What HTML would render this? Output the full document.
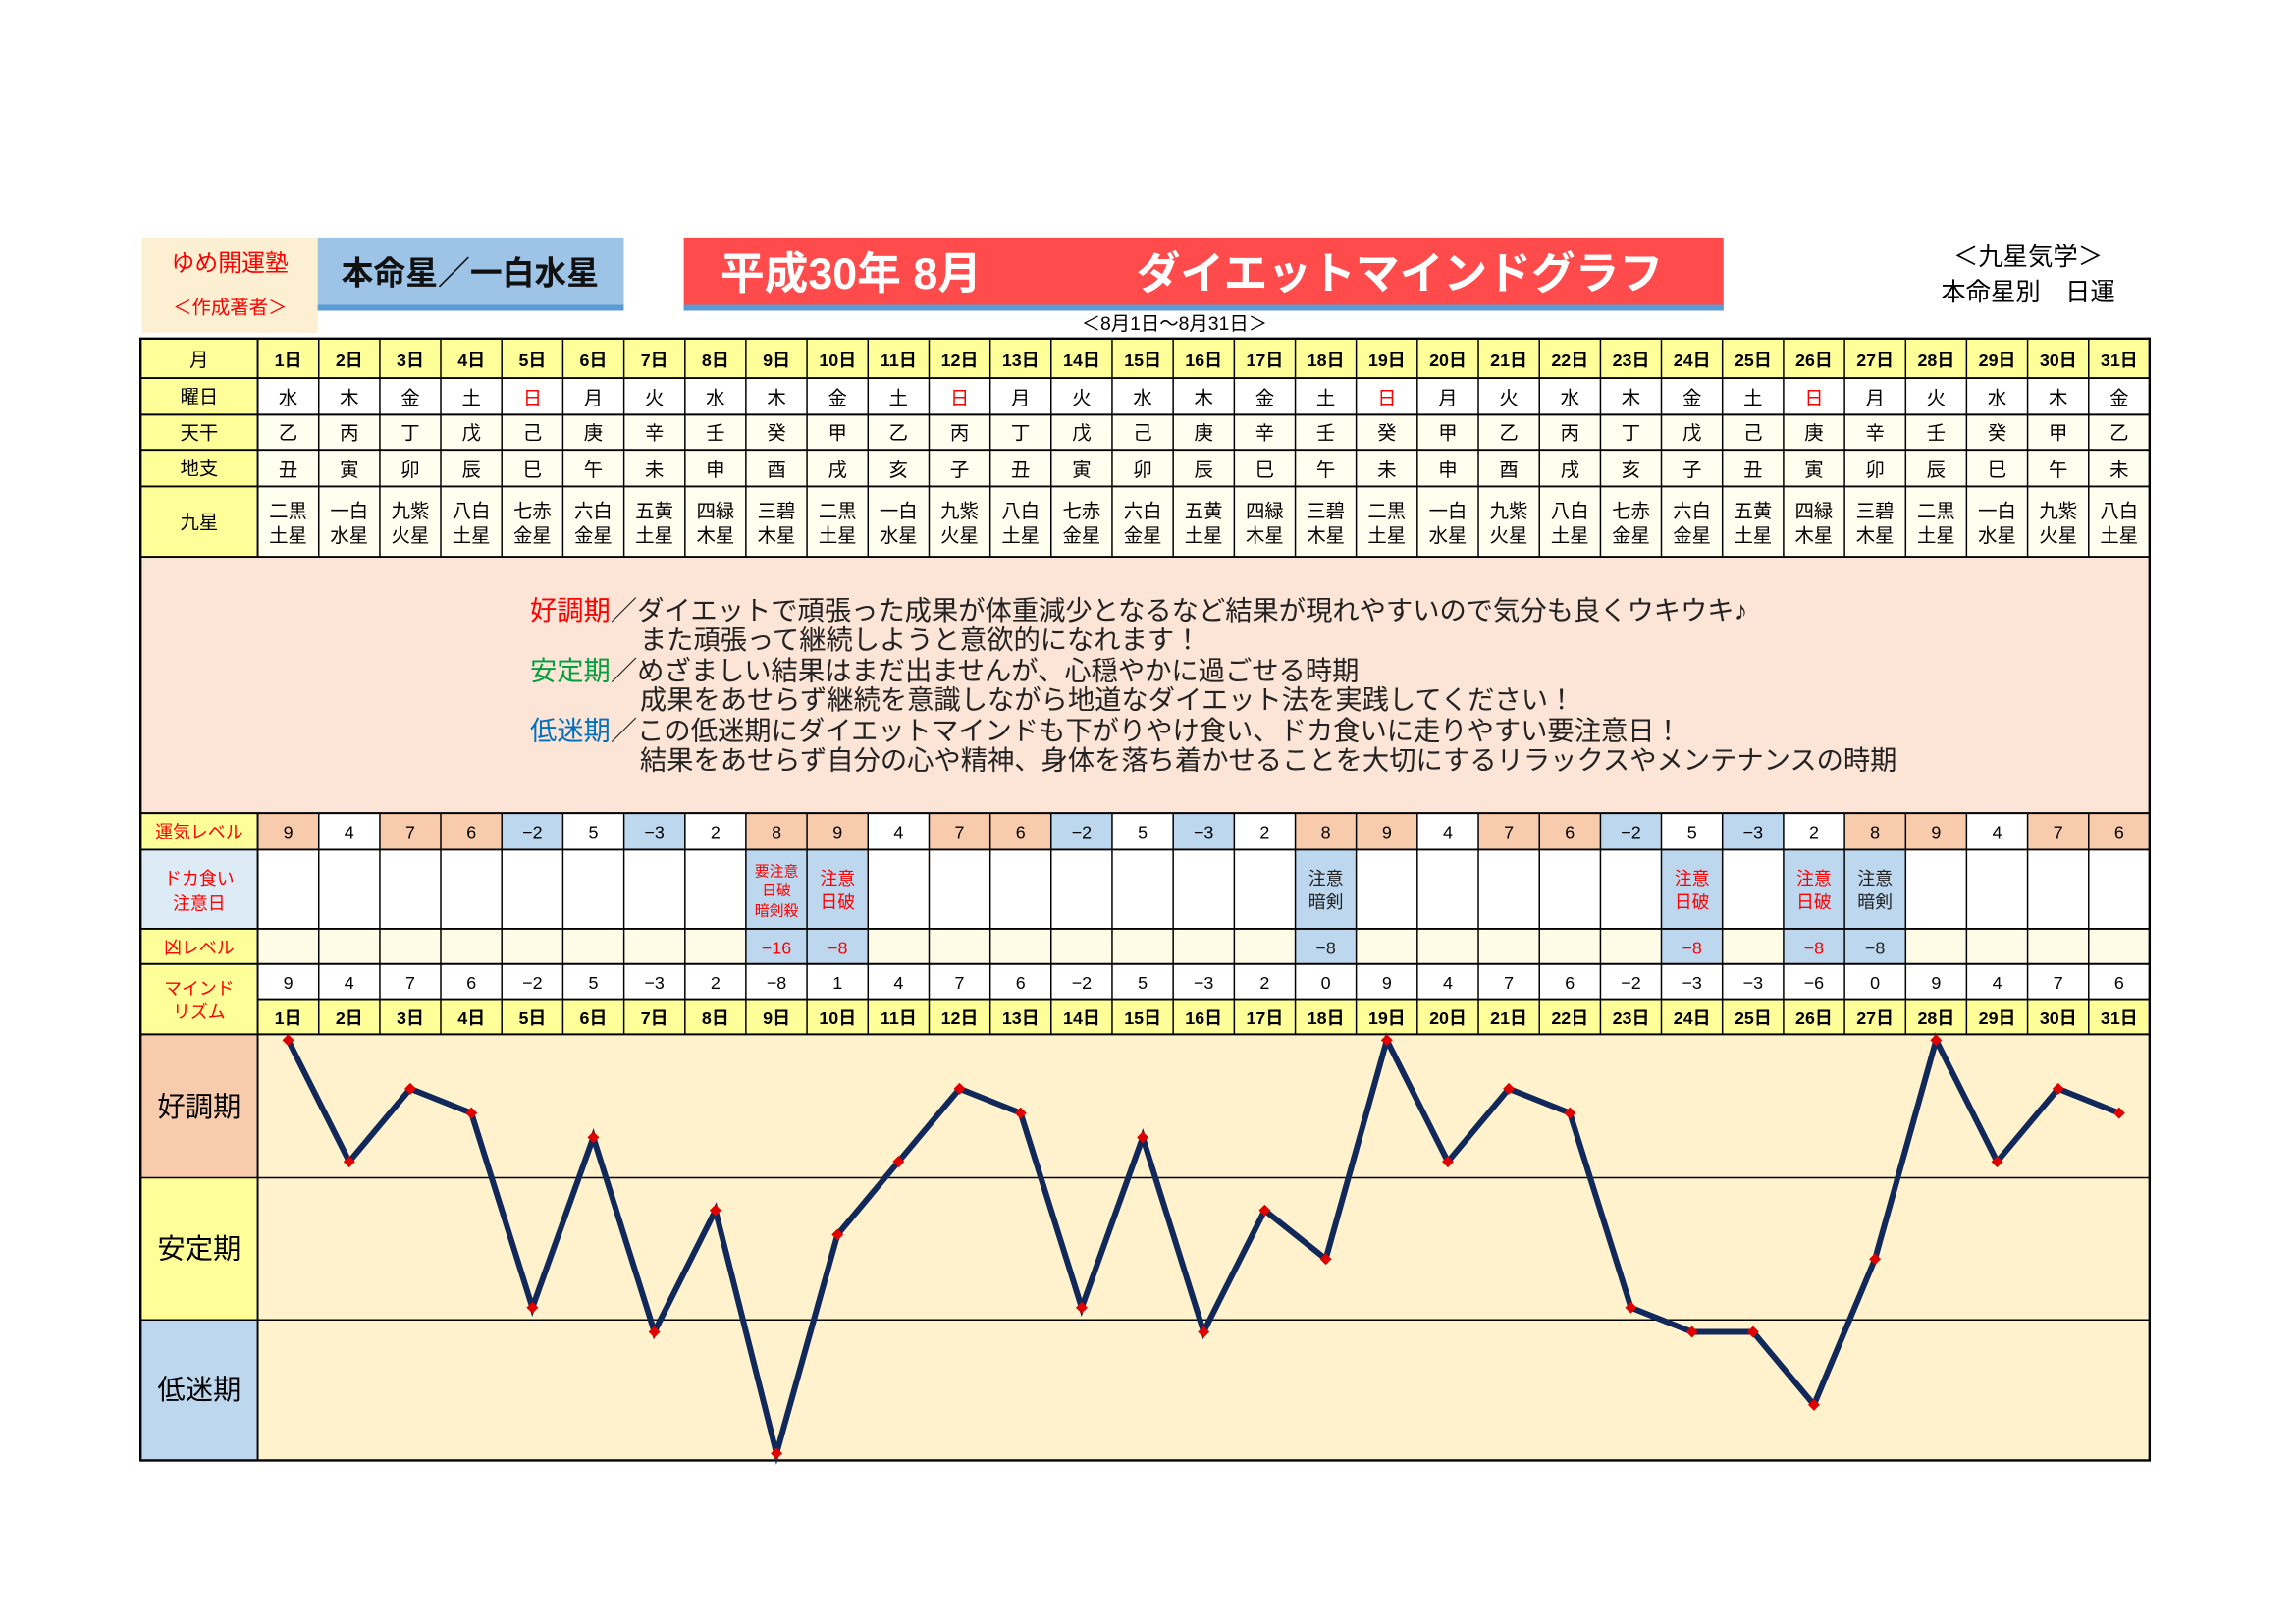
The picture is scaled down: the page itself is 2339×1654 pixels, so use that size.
<!DOCTYPE html>
<html><head><meta charset="utf-8"><style>
html,body{margin:0;padding:0;background:#fff}
svg{display:block}
text{font-family:"Liberation Sans","Noto Sans CJK JP",sans-serif}
</style></head><body>
<svg width="2339" height="1654" viewBox="0 0 1568 1108.5" xmlns="http://www.w3.org/2000/svg">
<rect width="1568" height="1109" fill="#fff"/>
<!-- header -->
<rect x="97" y="162" width="120" height="65" fill="#fdf0d2"/>
<text x="157" y="185" font-size="16" fill="#f00" text-anchor="middle">ゆめ開運塾</text>
<text x="157" y="214" font-size="13" fill="#f00" text-anchor="middle">＜作成著者＞</text>
<rect x="217" y="162" width="209" height="50" fill="#9dc3e6"/>
<rect x="217" y="208" width="209" height="4" fill="#5b9bd5"/>
<text x="321" y="194" font-size="22" font-weight="bold" fill="#111" text-anchor="middle">本命星／一白水星</text>
<rect x="467" y="162" width="710" height="50" fill="#ff4b4b"/>
<rect x="467" y="208" width="710" height="4" fill="#5b9bd5"/>
<text x="492" y="197" font-size="30" font-weight="bold" fill="#fff">平成30年 8月</text>
<text x="776" y="197" font-size="30" font-weight="bold" fill="#fff">ダイエットマインドグラフ</text>
<text x="802" y="225" font-size="13" fill="#000" text-anchor="middle">＜8月1日～8月31日＞</text>
<text x="1385" y="181" font-size="17" fill="#000" text-anchor="middle">＜九星気学＞</text>
<text x="1385" y="205" font-size="17" fill="#000" text-anchor="middle">本命星別　日運</text>

<!-- row backgrounds -->
<rect x="96" y="231" width="1372" height="27" fill="#ffff99"/>
<rect x="96" y="258" width="80" height="122" fill="#ffff99"/>
<rect x="176" y="258" width="1292" height="25" fill="#fff"/>
<rect x="176" y="283" width="1292" height="49" fill="#fffff0"/>
<rect x="176" y="332" width="1292" height="48" fill="#fffff0"/>
<rect x="96" y="380" width="1372" height="175" fill="#fce4d6"/>
<rect x="96" y="555" width="80" height="25" fill="#ffff99"/>
<rect x="176" y="555" width="1292" height="25" fill="#fff"/>
<rect x="96" y="580" width="80" height="54" fill="#ddebf7"/>
<rect x="176" y="580" width="1292" height="54" fill="#fff"/>
<rect x="96" y="634" width="80" height="24" fill="#ffff99"/>
<rect x="176" y="634" width="1292" height="24" fill="#fefce6"/>
<rect x="96" y="658" width="80" height="48" fill="#ffff99"/>
<rect x="176" y="658" width="1292" height="24" fill="#fff"/>
<rect x="176" y="682" width="1292" height="24" fill="#ffff99"/>
<rect x="176" y="706" width="1292" height="291" fill="#fff2cc"/>
<rect x="96" y="706" width="80" height="98" fill="#f8cbad"/>
<rect x="96" y="804" width="80" height="97" fill="#ffff99"/>
<rect x="96" y="901" width="80" height="96" fill="#bdd7ee"/>

<!-- 運気 colored cells -->
<g fill="#f8cbad">
<rect x="176" y="555" width="41.7" height="25"/><rect x="259.4" y="555" width="41.7" height="25"/><rect x="301" y="555" width="41.7" height="25"/>
<rect x="509.4" y="555" width="41.7" height="25"/><rect x="551.1" y="555" width="41.7" height="25"/><rect x="634.5" y="555" width="41.7" height="25"/><rect x="676.2" y="555" width="41.7" height="25"/>
<rect x="884.6" y="555" width="41.7" height="25"/><rect x="926.2" y="555" width="41.7" height="25"/><rect x="1009.6" y="555" width="41.7" height="25"/><rect x="1051.3" y="555" width="41.7" height="25"/>
<rect x="1259.7" y="555" width="41.7" height="25"/><rect x="1301.4" y="555" width="41.7" height="25"/><rect x="1384.7" y="555" width="41.7" height="25"/><rect x="1426.4" y="555" width="41.7" height="25"/>
</g>
<g fill="#bdd7ee">
<rect x="342.7" y="555" width="41.7" height="25"/><rect x="426.1" y="555" width="41.7" height="25"/><rect x="717.8" y="555" width="41.7" height="25"/><rect x="801.2" y="555" width="41.7" height="25"/><rect x="1093" y="555" width="41.7" height="25"/><rect x="1176.3" y="555" width="41.7" height="25"/>
<rect x="509.4" y="580" width="83.4" height="78"/>
<rect x="884.6" y="580" width="41.7" height="78"/>
<rect x="1134.6" y="580" width="41.7" height="78"/>
<rect x="1218" y="580" width="83.4" height="78"/>
</g>

<!-- grid lines -->
<g stroke="#000" stroke-width="1.3">
<line x1="96" y1="258" x2="1468" y2="258"/><line x1="96" y1="283" x2="1468" y2="283"/><line x1="96" y1="307" x2="1468" y2="307"/><line x1="96" y1="332" x2="1468" y2="332"/><line x1="96" y1="380" x2="1468" y2="380"/>
<line x1="96" y1="555" x2="1468" y2="555"/><line x1="96" y1="580" x2="1468" y2="580"/><line x1="96" y1="634" x2="1468" y2="634"/><line x1="96" y1="658" x2="1468" y2="658"/><line x1="176" y1="682" x2="1468" y2="682"/><line x1="96" y1="706" x2="1468" y2="706"/>
<line x1="96" y1="804" x2="1468" y2="804" stroke-width="1"/><line x1="96" y1="901" x2="1468" y2="901" stroke-width="1"/>
<line x1="176" y1="231" x2="176" y2="380"/><line x1="176" y1="555" x2="176" y2="997"/>
</g>
<g stroke="#000" stroke-width="1">
<path d="M217.7 231V380M259.4 231V380M301 231V380M342.7 231V380M384.4 231V380M426.1 231V380M467.8 231V380M509.4 231V380M551.1 231V380M592.8 231V380M634.5 231V380M676.2 231V380M717.8 231V380M759.5 231V380M801.2 231V380M842.9 231V380M884.6 231V380M926.2 231V380M967.9 231V380M1009.6 231V380M1051.3 231V380M1093 231V380M1134.6 231V380M1176.3 231V380M1218 231V380M1259.7 231V380M1301.4 231V380M1343 231V380M1384.7 231V380M1426.4 231V380"/>
<path d="M217.7 555V706M259.4 555V706M301 555V706M342.7 555V706M384.4 555V706M426.1 555V706M467.8 555V706M509.4 555V706M551.1 555V706M592.8 555V706M634.5 555V706M676.2 555V706M717.8 555V706M759.5 555V706M801.2 555V706M842.9 555V706M884.6 555V706M926.2 555V706M967.9 555V706M1009.6 555V706M1051.3 555V706M1093 555V706M1134.6 555V706M1176.3 555V706M1218 555V706M1259.7 555V706M1301.4 555V706M1343 555V706M1384.7 555V706M1426.4 555V706"/>
</g>
<rect x="96" y="231" width="1372" height="766" fill="none" stroke="#000" stroke-width="1.6"/>

<!-- labels -->
<g font-size="13" text-anchor="middle" fill="#000">
<text x="136" y="250">月</text><text x="136" y="275">曜日</text><text x="136" y="300">天干</text><text x="136" y="324">地支</text><text x="136" y="361">九星</text>
</g>
<g font-size="12" text-anchor="middle" fill="#f00">
<text x="136" y="572">運気レベル</text>
<text x="136" y="604">ドカ食い</text><text x="136" y="621">注意日</text>
<text x="136" y="651">凶レベル</text>
<text x="136" y="679">マインド</text><text x="136" y="695">リズム</text>
</g>
<g font-size="19" text-anchor="middle" fill="#000">
<text x="136" y="762">好調期</text><text x="136" y="859">安定期</text><text x="136" y="955">低迷期</text>
</g>

<!-- day headers -->
<g font-size="12" text-anchor="middle" fill="#000" font-weight="bold">
<text x="196.8" y="250">1日</text><text x="238.5" y="250">2日</text><text x="280.2" y="250">3日</text><text x="321.9" y="250">4日</text><text x="363.6" y="250">5日</text><text x="405.2" y="250">6日</text><text x="446.9" y="250">7日</text><text x="488.6" y="250">8日</text><text x="530.3" y="250">9日</text><text x="572" y="250">10日</text><text x="613.6" y="250">11日</text><text x="655.3" y="250">12日</text><text x="697" y="250">13日</text><text x="738.7" y="250">14日</text><text x="780.4" y="250">15日</text><text x="822" y="250">16日</text><text x="863.7" y="250">17日</text><text x="905.4" y="250">18日</text><text x="947.1" y="250">19日</text><text x="988.8" y="250">20日</text><text x="1030.4" y="250">21日</text><text x="1072.1" y="250">22日</text><text x="1113.8" y="250">23日</text><text x="1155.5" y="250">24日</text><text x="1197.2" y="250">25日</text><text x="1238.8" y="250">26日</text><text x="1280.5" y="250">27日</text><text x="1322.2" y="250">28日</text><text x="1363.9" y="250">29日</text><text x="1405.6" y="250">30日</text><text x="1447.2" y="250">31日</text>
</g>
<g font-size="12" text-anchor="middle" fill="#000" font-weight="bold">
<text x="196.8" y="699">1日</text><text x="238.5" y="699">2日</text><text x="280.2" y="699">3日</text><text x="321.9" y="699">4日</text><text x="363.6" y="699">5日</text><text x="405.2" y="699">6日</text><text x="446.9" y="699">7日</text><text x="488.6" y="699">8日</text><text x="530.3" y="699">9日</text><text x="572" y="699">10日</text><text x="613.6" y="699">11日</text><text x="655.3" y="699">12日</text><text x="697" y="699">13日</text><text x="738.7" y="699">14日</text><text x="780.4" y="699">15日</text><text x="822" y="699">16日</text><text x="863.7" y="699">17日</text><text x="905.4" y="699">18日</text><text x="947.1" y="699">19日</text><text x="988.8" y="699">20日</text><text x="1030.4" y="699">21日</text><text x="1072.1" y="699">22日</text><text x="1113.8" y="699">23日</text><text x="1155.5" y="699">24日</text><text x="1197.2" y="699">25日</text><text x="1238.8" y="699">26日</text><text x="1280.5" y="699">27日</text><text x="1322.2" y="699">28日</text><text x="1363.9" y="699">29日</text><text x="1405.6" y="699">30日</text><text x="1447.2" y="699">31日</text>
</g>

<!-- single-char rows -->
<g font-size="13" text-anchor="middle" fill="#000">
<text y="276"><tspan x="196.8 238.5 280.2 321.9">水木金土</tspan><tspan x="363.6" fill="#f00">日</tspan><tspan x="405.2 446.9 488.6 530.3 572 613.6">月火水木金土</tspan><tspan x="655.3" fill="#f00">日</tspan><tspan x="697 738.7 780.4 822 863.7 905.4">月火水木金土</tspan><tspan x="947.1" fill="#f00">日</tspan><tspan x="988.8 1030.4 1072.1 1113.8 1155.5 1197.2">月火水木金土</tspan><tspan x="1238.8" fill="#f00">日</tspan><tspan x="1280.5 1322.2 1363.9 1405.6 1447.2">月火水木金</tspan></text>
<text y="300" x="196.8 238.5 280.2 321.9 363.6 405.2 446.9 488.6 530.3 572 613.6 655.3 697 738.7 780.4 822 863.7 905.4 947.1 988.8 1030.4 1072.1 1113.8 1155.5 1197.2 1238.8 1280.5 1322.2 1363.9 1405.6 1447.2">乙丙丁戊己庚辛壬癸甲乙丙丁戊己庚辛壬癸甲乙丙丁戊己庚辛壬癸甲乙</text>
<text y="325" x="196.8 238.5 280.2 321.9 363.6 405.2 446.9 488.6 530.3 572 613.6 655.3 697 738.7 780.4 822 863.7 905.4 947.1 988.8 1030.4 1072.1 1113.8 1155.5 1197.2 1238.8 1280.5 1322.2 1363.9 1405.6 1447.2">丑寅卯辰巳午未申酉戌亥子丑寅卯辰巳午未申酉戌亥子丑寅卯辰巳午未</text>
</g>
<!-- 九星 -->
<g font-size="13" text-anchor="middle" fill="#000">
<text x="196.8" y="353">二黒</text><text x="238.5" y="353">一白</text><text x="280.2" y="353">九紫</text><text x="321.9" y="353">八白</text><text x="363.6" y="353">七赤</text><text x="405.2" y="353">六白</text><text x="446.9" y="353">五黄</text><text x="488.6" y="353">四緑</text><text x="530.3" y="353">三碧</text><text x="572" y="353">二黒</text><text x="613.6" y="353">一白</text><text x="655.3" y="353">九紫</text><text x="697" y="353">八白</text><text x="738.7" y="353">七赤</text><text x="780.4" y="353">六白</text><text x="822" y="353">五黄</text><text x="863.7" y="353">四緑</text><text x="905.4" y="353">三碧</text><text x="947.1" y="353">二黒</text><text x="988.8" y="353">一白</text><text x="1030.4" y="353">九紫</text><text x="1072.1" y="353">八白</text><text x="1113.8" y="353">七赤</text><text x="1155.5" y="353">六白</text><text x="1197.2" y="353">五黄</text><text x="1238.8" y="353">四緑</text><text x="1280.5" y="353">三碧</text><text x="1322.2" y="353">二黒</text><text x="1363.9" y="353">一白</text><text x="1405.6" y="353">九紫</text><text x="1447.2" y="353">八白</text>
<text x="196.8" y="370">土星</text><text x="238.5" y="370">水星</text><text x="280.2" y="370">火星</text><text x="321.9" y="370">土星</text><text x="363.6" y="370">金星</text><text x="405.2" y="370">金星</text><text x="446.9" y="370">土星</text><text x="488.6" y="370">木星</text><text x="530.3" y="370">木星</text><text x="572" y="370">土星</text><text x="613.6" y="370">水星</text><text x="655.3" y="370">火星</text><text x="697" y="370">土星</text><text x="738.7" y="370">金星</text><text x="780.4" y="370">金星</text><text x="822" y="370">土星</text><text x="863.7" y="370">木星</text><text x="905.4" y="370">木星</text><text x="947.1" y="370">土星</text><text x="988.8" y="370">水星</text><text x="1030.4" y="370">火星</text><text x="1072.1" y="370">土星</text><text x="1113.8" y="370">金星</text><text x="1155.5" y="370">金星</text><text x="1197.2" y="370">土星</text><text x="1238.8" y="370">木星</text><text x="1280.5" y="370">木星</text><text x="1322.2" y="370">土星</text><text x="1363.9" y="370">水星</text><text x="1405.6" y="370">火星</text><text x="1447.2" y="370">土星</text>
</g>

<!-- description -->
<g font-size="18.3" fill="#222">
<text x="362" y="423"><tspan fill="#f00">好調期</tspan>／ダイエットで頑張った成果が体重減少となるなど結果が現れやすいので気分も良くウキウキ♪</text>
<text x="437" y="443">また頑張って継続しようと意欲的になれます！</text>
<text x="362" y="464"><tspan fill="#00a040">安定期</tspan>／めざましい結果はまだ出ませんが、心穏やかに過ごせる時期</text>
<text x="437" y="484">成果をあせらず継続を意識しながら地道なダイエット法を実践してください！</text>
<text x="362" y="505"><tspan fill="#0070c0">低迷期</tspan>／この低迷期にダイエットマインドも下がりやけ食い、ドカ食いに走りやすい要注意日！</text>
<text x="437" y="525">結果をあせらず自分の心や精神、身体を落ち着かせることを大切にするリラックスやメンテナンスの時期</text>
</g>

<!-- 運気 values -->
<g font-size="12" text-anchor="middle" fill="#000">
<text x="196.8" y="572">9</text><text x="238.5" y="572">4</text><text x="280.2" y="572">7</text><text x="321.9" y="572">6</text><text x="363.6" y="572">−2</text><text x="405.2" y="572">5</text><text x="446.9" y="572">−3</text><text x="488.6" y="572">2</text><text x="530.3" y="572">8</text><text x="572" y="572">9</text><text x="613.6" y="572">4</text><text x="655.3" y="572">7</text><text x="697" y="572">6</text><text x="738.7" y="572">−2</text><text x="780.4" y="572">5</text><text x="822" y="572">−3</text><text x="863.7" y="572">2</text><text x="905.4" y="572">8</text><text x="947.1" y="572">9</text><text x="988.8" y="572">4</text><text x="1030.4" y="572">7</text><text x="1072.1" y="572">6</text><text x="1113.8" y="572">−2</text><text x="1155.5" y="572">5</text><text x="1197.2" y="572">−3</text><text x="1238.8" y="572">2</text><text x="1280.5" y="572">8</text><text x="1322.2" y="572">9</text><text x="1363.9" y="572">4</text><text x="1405.6" y="572">7</text><text x="1447.2" y="572">6</text>
</g>
<!-- mind values -->
<g font-size="12" text-anchor="middle" fill="#000">
<text x="196.8" y="675">9</text><text x="238.5" y="675">4</text><text x="280.2" y="675">7</text><text x="321.9" y="675">6</text><text x="363.6" y="675">−2</text><text x="405.2" y="675">5</text><text x="446.9" y="675">−3</text><text x="488.6" y="675">2</text><text x="530.3" y="675">−8</text><text x="572" y="675">1</text><text x="613.6" y="675">4</text><text x="655.3" y="675">7</text><text x="697" y="675">6</text><text x="738.7" y="675">−2</text><text x="780.4" y="675">5</text><text x="822" y="675">−3</text><text x="863.7" y="675">2</text><text x="905.4" y="675">0</text><text x="947.1" y="675">9</text><text x="988.8" y="675">4</text><text x="1030.4" y="675">7</text><text x="1072.1" y="675">6</text><text x="1113.8" y="675">−2</text><text x="1155.5" y="675">−3</text><text x="1197.2" y="675">−3</text><text x="1238.8" y="675">−6</text><text x="1280.5" y="675">0</text><text x="1322.2" y="675">9</text><text x="1363.9" y="675">4</text><text x="1405.6" y="675">7</text><text x="1447.2" y="675">6</text>
</g>
<!-- caution cells -->
<g font-size="11" text-anchor="middle" fill="#f00">
<text x="530.3" y="598" font-size="10">要注意</text><text x="530.3" y="611" font-size="10">日破</text><text x="530.3" y="625" font-size="10">暗剣殺</text>
<text x="572" y="604" font-size="12">注意</text><text x="572" y="620" font-size="12">日破</text>
<text x="1155.5" y="604" font-size="12">注意</text><text x="1155.5" y="620" font-size="12">日破</text>
<text x="1238.8" y="604" font-size="12">注意</text><text x="1238.8" y="620" font-size="12">日破</text>
<text x="530.3" y="651" font-size="12">−16</text><text x="572" y="651" font-size="12">−8</text><text x="1155.5" y="651" font-size="12">−8</text><text x="1238.8" y="651" font-size="12">−8</text>
</g>
<g font-size="12" text-anchor="middle" fill="#222">
<text x="905.4" y="604">注意</text><text x="905.4" y="620">暗剣</text>
<text x="1280.5" y="604">注意</text><text x="1280.5" y="620">暗剣</text>
<text x="905.4" y="651">−8</text><text x="1280.5" y="651">−8</text>
</g>

<!-- chart line -->
<polyline fill="none" stroke="#10285a" stroke-width="4" stroke-linejoin="miter" points="196.8,710 238.5,793 280.2,743.2 321.9,759.8 363.6,892.6 405.2,776.4 446.9,909.2 488.6,826.2 530.3,992.2 572,842.8 613.6,793 655.3,743.2 697,759.8 738.7,892.6 780.4,776.4 822,909.2 863.7,826.2 905.4,859.4 947.1,710 988.8,793 1030.4,743.2 1072.1,759.8 1113.8,892.6 1155.5,909.2 1197.2,909.2 1238.8,959 1280.5,859.4 1322.2,710 1363.9,793 1405.6,743.2 1447.2,759.8"/>
<g fill="#e00000">
<path d="M196.8 706l4 4-4 4-4-4z M238.5 789l4 4-4 4-4-4z M280.2 739.2l4 4-4 4-4-4z M321.9 755.8l4 4-4 4-4-4z M363.6 888.6l4 4-4 4-4-4z M405.2 772.4l4 4-4 4-4-4z M446.9 905.2l4 4-4 4-4-4z M488.6 822.2l4 4-4 4-4-4z M530.3 988.2l4 4-4 4-4-4z M572 838.8l4 4-4 4-4-4z M613.6 789l4 4-4 4-4-4z M655.3 739.2l4 4-4 4-4-4z M697 755.8l4 4-4 4-4-4z M738.7 888.6l4 4-4 4-4-4z M780.4 772.4l4 4-4 4-4-4z M822 905.2l4 4-4 4-4-4z M863.7 822.2l4 4-4 4-4-4z M905.4 855.4l4 4-4 4-4-4z M947.1 706l4 4-4 4-4-4z M988.8 789l4 4-4 4-4-4z M1030.4 739.2l4 4-4 4-4-4z M1072.1 755.8l4 4-4 4-4-4z M1113.8 888.6l4 4-4 4-4-4z M1155.5 905.2l4 4-4 4-4-4z M1197.2 905.2l4 4-4 4-4-4z M1238.8 955l4 4-4 4-4-4z M1280.5 855.4l4 4-4 4-4-4z M1322.2 706l4 4-4 4-4-4z M1363.9 789l4 4-4 4-4-4z M1405.6 739.2l4 4-4 4-4-4z M1447.2 755.8l4 4-4 4-4-4z"/>
</g>
</svg>
</body></html>
